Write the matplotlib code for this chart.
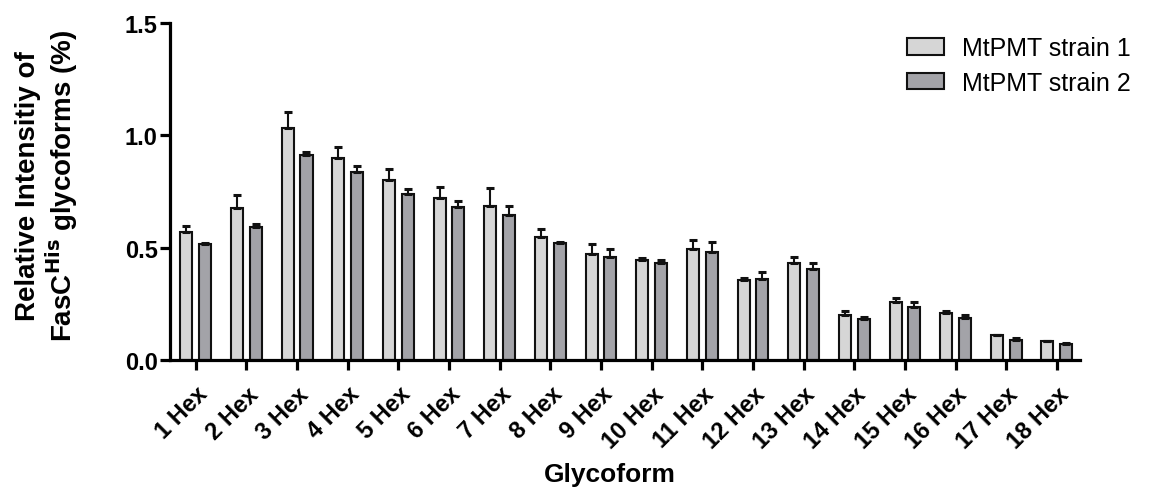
import numpy as np
import matplotlib
matplotlib.use('Agg')
import matplotlib.pyplot as plt

plt.rcParams['font.family'] = ['Liberation Sans', 'DejaVu Sans']

# Data
glycoforms = [f'{i} Hex' for i in range(1, 19)]
strain1 = [0.568, 0.677, 1.033, 0.899, 0.801, 0.722, 0.686, 0.546, 0.470,
           0.445, 0.496, 0.354, 0.433, 0.201, 0.259, 0.207, 0.110, 0.083]
strain1_err = [0.027, 0.058, 0.071, 0.049, 0.049, 0.050, 0.079, 0.038, 0.045,
               0.007, 0.039, 0.012, 0.027, 0.016, 0.019, 0.012, 0.003, 0.002]
strain2 = [0.518, 0.591, 0.912, 0.836, 0.738, 0.679, 0.647, 0.519, 0.457,
           0.432, 0.482, 0.360, 0.403, 0.183, 0.237, 0.189, 0.089, 0.070]
strain2_err = [0.002, 0.012, 0.015, 0.027, 0.022, 0.028, 0.039, 0.008, 0.035,
               0.011, 0.043, 0.030, 0.027, 0.010, 0.019, 0.012, 0.010, 0.007]
series_names = ['MtPMT strain 1', 'MtPMT strain 2']

fig = plt.figure(figsize=(11.51, 4.89), dpi=100)
ax = fig.add_axes([0.1477, 0.2618, 0.7903, 0.6892])

x = np.arange(len(glycoforms))
width = 0.237
offset = 0.185

ekw = dict(elinewidth=1.5, capthick=2.2, ecolor='#111111')
ax.bar(x - offset, strain1, width, color='#D6D6D6', edgecolor='#111111', linewidth=1.5,
       yerr=[np.zeros(len(x)), strain1_err], capsize=2.6, error_kw=ekw,
       label=series_names[0], zorder=2)
ax.bar(x + offset, strain2, width, color='#A3A3A8', edgecolor='#111111', linewidth=1.5,
       yerr=[np.zeros(len(x)), strain2_err], capsize=2.6, error_kw=ekw,
       label=series_names[1], zorder=2)

ax.set_xlim(-0.51, 17.45)
ax.set_ylim(0, 1.5)
ax.set_yticks([0, 0.5, 1.0, 1.5])
ax.set_yticklabels(['0.0', '0.5', '1.0', '1.5'], fontsize=17, fontweight='bold')
ax.set_xticks(x)
ax.set_xticklabels(glycoforms, rotation=45, ha='right', rotation_mode='anchor',
                   fontsize=17, fontweight='bold')

for side in ['top', 'right']:
    ax.spines[side].set_visible(False)
for side in ['left', 'bottom']:
    ax.spines[side].set_linewidth(2.3)
ax.tick_params(axis='both', direction='out', length=7, width=2.3)
ax.tick_params(axis='y', pad=2)
ax.tick_params(axis='x', pad=9)

ax.set_xlabel('Glycoform', fontsize=19, fontweight='bold', labelpad=7)
ax.xaxis.label.set_x(0.4835)
ax.set_ylabel('Relative Intensitiy of\nFasC$^{\\mathbf{His}}$ glycoforms (%)',
              fontsize=20, fontweight='bold', labelpad=32, linespacing=1.1)
ax.yaxis.label.set_y(0.52)

ax.legend(loc='upper left', bbox_to_anchor=(0.788, 0.924),
          bbox_transform=fig.transFigure, frameon=False, borderpad=0,
          borderaxespad=0, fontsize=18, handlelength=1.48, handleheight=0.65,
          handletextpad=0.72, labelspacing=0.43)

plt.savefig('out.png', dpi=100)
